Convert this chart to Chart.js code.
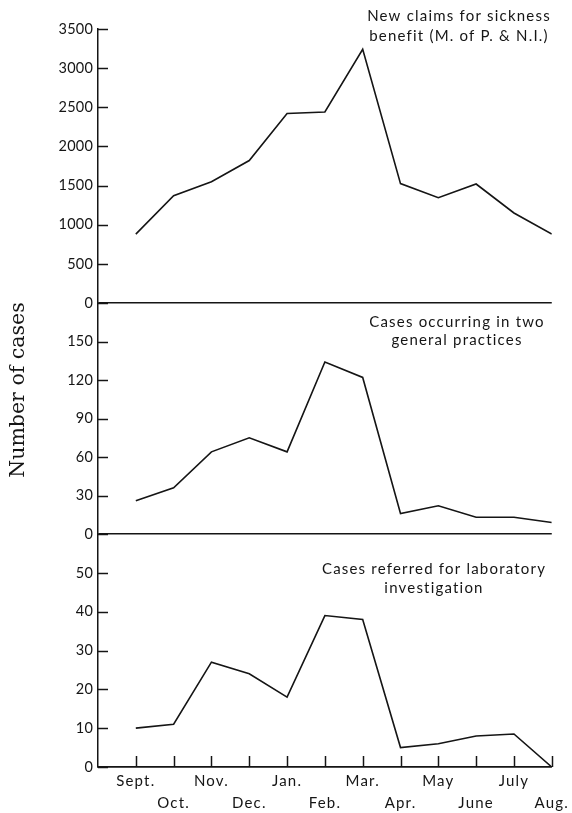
<!DOCTYPE html>
<html>
<head>
<meta charset="utf-8">
<script src="https://cdn.jsdelivr.net/npm/chart.js@4/dist/chart.umd.min.js"></script>
<style>
  html, body { margin: 0; padding: 0; background: #fff; }
  #wrap { position: relative; width: 572px; height: 813px; }
</style>
</head>
<body>
<div id="wrap"><canvas id="chart" width="572" height="813"></canvas></div>
<script>
// Monthly series, September to August
const months = ['Sept.', 'Oct.', 'Nov.', 'Dec.', 'Jan.', 'Feb.', 'Mar.', 'Apr.', 'May', 'June', 'July', 'Aug.'];
const sicknessClaims = [880, 1370, 1550, 1820, 2420, 2440, 3240, 1525, 1345, 1520, 1150, 880];
const practiceCases = [26, 36, 64, 75, 64, 134, 122, 16, 22, 13, 13, 9];
const labCases = [10, 11, 27, 24, 18, 39, 38, 5, 6, 8, 8.5, 0];

// Tick values for each panel
const claimTicks = [0, 500, 1000, 1500, 2000, 2500, 3000, 3500];
const practiceTicks = [0, 30, 60, 90, 120, 150];
const labTicks = [0, 10, 20, 30, 40, 50];

// Panel captions
const claimNote = ['New claims for sickness', 'benefit (M. of P. & N.I.)'];
const practiceNote = ['Cases occurring in two', 'general practices'];
const labNote = ['Cases referred for laboratory', 'investigation'];
const yTitle = 'Number of cases';

const INK = '#151515';
const SANS = 'Lato, "Open Sans", sans-serif';
const SPACING = '1.2px';
const DIGIT_SPACING = '0.2px';

const toPoints = arr => arr.map((v, i) => ({ x: i, y: v }));

function panelAxis(ticks, max, weight, stackWeight) {
  return {
    type: 'linear',
    position: 'left',
    stack: 'panels',
    stackWeight: stackWeight,
    weight: weight,
    min: 0,
    max: max,
    afterBuildTicks: s => { s.ticks = ticks.map(v => ({ value: v })); },
    afterFit: s => { s.width = 98; },
    border: { display: true, color: INK, width: 1.5 },
    grid: {
      drawTicks: false,
      lineWidth: 1.5,
      color: c => (c.tick && c.tick.value === 0) ? INK : 'rgba(0,0,0,0)'
    },
    ticks: {
      color: INK,
      padding: 5,
      autoSkip: false,
      font: { family: SANS, size: 14.5 },
      callback: v => String(v)
    }
  };
}

// Letter spacing: wide for month names and captions, tight for the numbers
const spacing = {
  id: 'spacing',
  beforeUpdate(chart) { chart.ctx.letterSpacing = SPACING; },
  afterUpdate(chart) {
    ['yClaims', 'yPractice', 'yLab'].forEach(id => {
      const s = chart.scales[id];
      if (s._tightLabels) return;
      const draw = s.drawLabels;
      s.drawLabels = function (area) {
        const prev = this.ctx.letterSpacing;
        this.ctx.letterSpacing = DIGIT_SPACING;
        draw.call(this, area);
        this.ctx.letterSpacing = prev;
      };
      s._tightLabels = true;
    });
  },
  beforeDraw(chart) { chart.ctx.letterSpacing = SPACING; }
};

// Short inward tick marks on the axes, and panel captions
const decorations = {
  id: 'decorations',
  afterDraw(chart) {
    const ctx = chart.ctx;
    const area = chart.chartArea;
    ctx.save();
    ctx.strokeStyle = INK;
    ctx.lineWidth = 1.5;
    ['yClaims', 'yPractice', 'yLab'].forEach(id => {
      const s = chart.scales[id];
      s.ticks.forEach(t => {
        const y = Math.round(s.getPixelForValue(t.value)) + 0.5;
        ctx.beginPath();
        ctx.moveTo(area.left, y);
        ctx.lineTo(area.left + 10, y);
        ctx.stroke();
      });
    });
    const xs = chart.scales.x;
    months.forEach((m, i) => {
      const x = Math.round(xs.getPixelForValue(i)) + 0.5;
      ctx.beginPath();
      ctx.moveTo(x, area.bottom);
      ctx.lineTo(x, area.bottom - 11);
      ctx.stroke();
    });

    ctx.fillStyle = INK;
    ctx.letterSpacing = SPACING;
    ctx.font = '15px ' + SANS;
    ctx.textAlign = 'center';
    ctx.textBaseline = 'middle';
    const notes = [
      [claimNote, chart.scales.yClaims.top - 13, 459, 20],
      [practiceNote, chart.scales.yPractice.top + 19, 457, 18],
      [labNote, chart.scales.yLab.top + 35, 434, 19]
    ];
    notes.forEach(([lines, y0, cx, lh]) => {
      lines.forEach((line, k) => ctx.fillText(line, cx, y0 + k * lh));
    });

    ctx.save();
    ctx.letterSpacing = '0px';
    ctx.translate(19, 390);
    ctx.rotate(-Math.PI / 2);
    ctx.font = '20.5px "DejaVu Serif", serif';
    ctx.fillText(yTitle, 0, 0);
    ctx.restore();
    ctx.restore();
  }
};

new Chart(document.getElementById('chart'), {
  type: 'line',
  data: {
    datasets: [
      { data: toPoints(sicknessClaims), yAxisID: 'yClaims' },
      { data: toPoints(practiceCases), yAxisID: 'yPractice' },
      { data: toPoints(labCases), yAxisID: 'yLab' }
    ]
  },
  options: {
    responsive: false,
    animation: false,
    layout: { padding: { left: 0, right: 18, top: 29, bottom: 0 } },
    elements: {
      line: { borderColor: INK, borderWidth: 1.6, tension: 0, fill: false },
      point: { radius: 0, hoverRadius: 0 }
    },
    plugins: { legend: { display: false }, tooltip: { enabled: false } },
    scales: {
      x: {
        type: 'linear',
        position: 'bottom',
        min: -1,
        max: 11,
        afterBuildTicks: s => { s.ticks = months.map((m, i) => ({ value: i })); },
        afterFit: s => { s.height = 46; },
        border: { display: true, color: INK, width: 1.5 },
        grid: { display: false, drawTicks: false },
        ticks: {
          color: INK,
          padding: 3,
          maxRotation: 0,
          autoSkip: false,
          font: { family: SANS, size: 15, lineHeight: 22 / 15 },
          callback: v => (v % 2 === 0) ? [months[v], ''] : ['', months[v]]
        }
      },
      yClaims: panelAxis(claimTicks, 3500, 3, 274),
      yPractice: panelAxis(practiceTicks, 180, 2, 231),
      yLab: panelAxis(labTicks, 60, 1, 233)
    }
  },
  plugins: [spacing, decorations]
});
</script>
</body>
</html>
